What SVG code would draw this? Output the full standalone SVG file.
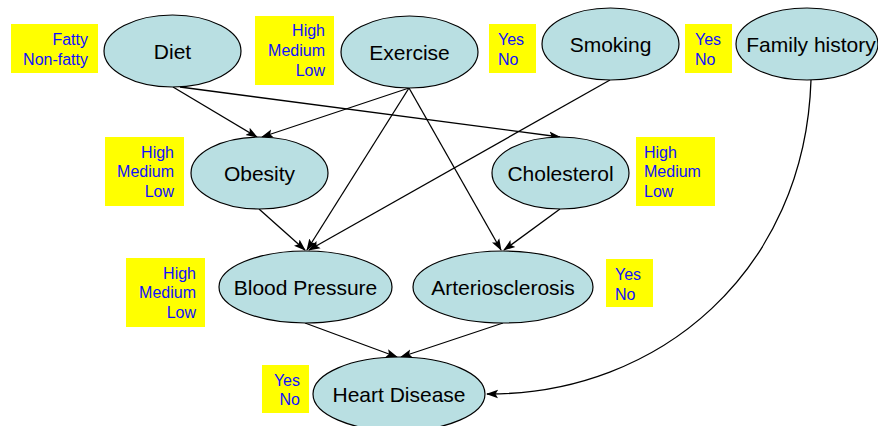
<svg xmlns="http://www.w3.org/2000/svg" width="878" height="426" viewBox="0 0 878 426">
<style>
.n ellipse{fill:#b9dfe2;stroke:#000;stroke-width:1.2}
.n text{font-family:"Liberation Sans",Arial,sans-serif;font-size:21px;fill:#000;text-anchor:middle}
.lb rect{fill:#ffff00}
.lb text{font-family:"Liberation Sans",Arial,sans-serif;font-size:16px;fill:#1010ff}
.r{text-anchor:end}
.e{fill:none;stroke:#000;stroke-width:1.3;marker-end:url(#a)}
</style>
<defs>
<marker id="a" markerUnits="userSpaceOnUse" markerWidth="12" markerHeight="10" viewBox="0 0 12 10" refX="11" refY="5" orient="auto">
<path d="M0,0.8 L12,5 L0,9.2 L2.5,5 Z" fill="#000"/>
</marker>
</defs>
<rect width="878" height="426" fill="#fff"/>
<g id="connectors">
<path class="e" d="M173,87 L257,137"/>
<path class="e" d="M180,87 L560,137"/>
<path class="e" d="M409,88 L262,137"/>
<path class="e" d="M409,88 L307,250"/>
<path class="e" d="M409,88 L501,250"/>
<path class="e" d="M610,80 L309,250"/>
<path class="e" d="M259,209 L305,250"/>
<path class="e" d="M560,209 L504,250"/>
<path class="e" d="M305,323 L397,357"/>
<path class="e" d="M503,323 L401,357"/>
<path class="e" d="M811,80 C805,270 660,395 487,394"/>
</g>
<g id="label-diet" class="lb"><rect x="11" y="24" width="87" height="49"/><text class="r" x="88" y="45">Fatty</text><text class="r" x="88" y="65">Non-fatty</text></g>
<g id="label-exercise" class="lb"><rect x="255" y="16" width="79" height="69"/><text class="r" x="325" y="36">High</text><text class="r" x="325" y="56">Medium</text><text class="r" x="325" y="76">Low</text></g>
<g id="label-smoking" class="lb"><rect x="489" y="24" width="47" height="49"/><text x="498" y="45">Yes</text><text x="498" y="65">No</text></g>
<g id="label-family" class="lb"><rect x="685" y="24" width="47" height="49"/><text x="695" y="45">Yes</text><text x="695" y="65">No</text></g>
<g id="label-obesity" class="lb"><rect x="105" y="137" width="79" height="69"/><text class="r" x="174" y="158">High</text><text class="r" x="174" y="177">Medium</text><text class="r" x="174" y="197">Low</text></g>
<g id="label-cholesterol" class="lb"><rect x="636" y="137" width="79" height="69"/><text x="644" y="158">High</text><text x="644" y="177">Medium</text><text x="644" y="197">Low</text></g>
<g id="label-bp" class="lb"><rect x="126" y="258" width="79" height="69"/><text class="r" x="196" y="279">High</text><text class="r" x="196" y="298">Medium</text><text class="r" x="196" y="318">Low</text></g>
<g id="label-arterio" class="lb"><rect x="606" y="259" width="47" height="48"/><text x="615" y="280">Yes</text><text x="615" y="300">No</text></g>
<g id="label-heart" class="lb"><rect x="262" y="365" width="47" height="48"/><text class="r" x="300" y="386">Yes</text><text class="r" x="300" y="405">No</text></g>
<g id="diet" class="n"><ellipse cx="172.5" cy="51" rx="68.5" ry="36"/><text x="172.5" y="59">Diet</text></g>
<g id="exercise" class="n"><ellipse cx="409.5" cy="52" rx="68.5" ry="36"/><text x="409.5" y="60">Exercise</text></g>
<g id="smoking" class="n"><ellipse cx="610.5" cy="44" rx="68.5" ry="36"/><text x="610.5" y="52">Smoking</text></g>
<g id="family-history" class="n"><ellipse cx="807" cy="44" rx="71" ry="36"/><text x="811" y="52">Family history</text></g>
<g id="obesity" class="n"><ellipse cx="259.5" cy="173" rx="68.5" ry="36"/><text x="259.5" y="181">Obesity</text></g>
<g id="cholesterol" class="n"><ellipse cx="560.5" cy="173" rx="68.5" ry="36"/><text x="560.5" y="181">Cholesterol</text></g>
<g id="blood-pressure" class="n"><ellipse cx="305.5" cy="287" rx="86.5" ry="36"/><text x="305.5" y="295">Blood Pressure</text></g>
<g id="arteriosclerosis" class="n"><ellipse cx="503" cy="287" rx="90" ry="36"/><text x="503" y="295">Arteriosclerosis</text></g>
<g id="heart-disease" class="n"><ellipse cx="399" cy="394" rx="86" ry="37"/><text x="399" y="402">Heart Disease</text></g>
</svg>
